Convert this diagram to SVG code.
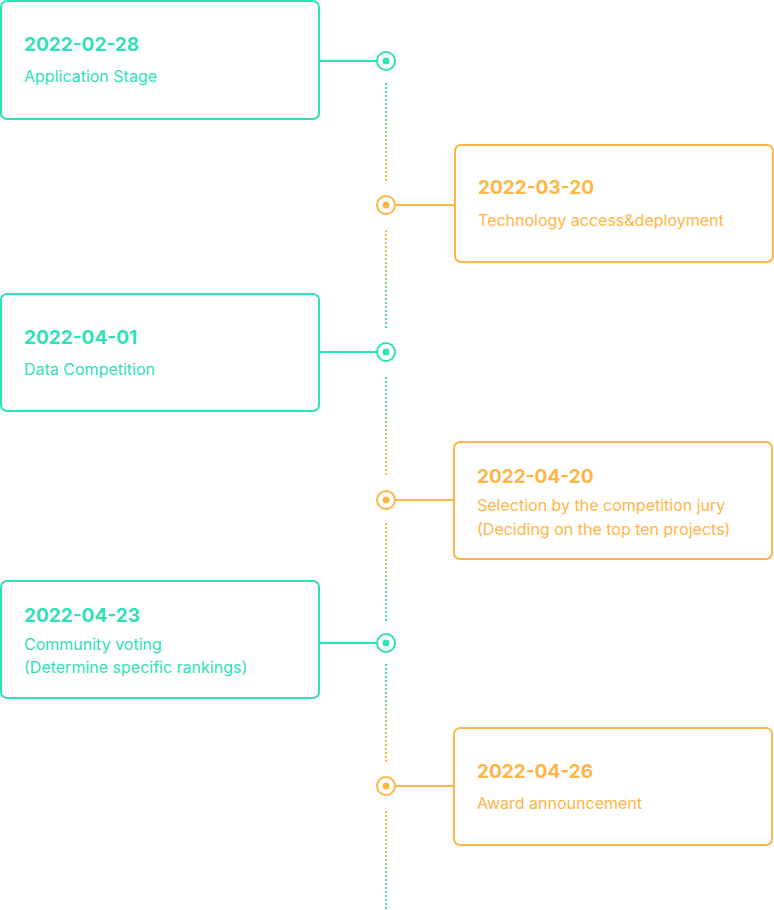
<svg xmlns="http://www.w3.org/2000/svg" width="774" height="910" viewBox="0 0 774 910">
<style>
.g{stroke:#30E0B8}
.o{stroke:#FFB545}
.box{fill:#fff;stroke-width:2}
.conn{stroke-width:2;fill:none}
.ring{fill:#fff;stroke-width:2}
.dg{fill:#30E0B8}
.do{fill:#FFB545}
.date{font-family:Inter,"Noto Sans","Liberation Sans",sans-serif;font-weight:700;font-size:19px}
.sub{font-family:Inter,"Noto Sans","Liberation Sans",sans-serif;font-size:16px}
.tg{fill:#30E0B8}
.to{fill:#FFB545}
.dash{stroke-width:2;stroke-dasharray:2 2;fill:none}
</style>
<defs>
<linearGradient id="go1" gradientUnits="userSpaceOnUse" x1="0" y1="83" x2="0" y2="182"><stop offset="0" stop-color="#30E0B8"/><stop offset="1" stop-color="#FFB545"/></linearGradient>
<linearGradient id="og2" gradientUnits="userSpaceOnUse" x1="0" y1="230" x2="0" y2="330"><stop offset="0" stop-color="#FFB545"/><stop offset="1" stop-color="#30E0B8"/></linearGradient>
<linearGradient id="go3" gradientUnits="userSpaceOnUse" x1="0" y1="377" x2="0" y2="477"><stop offset="0" stop-color="#30E0B8"/><stop offset="1" stop-color="#FFB545"/></linearGradient>
<linearGradient id="og4" gradientUnits="userSpaceOnUse" x1="0" y1="523" x2="0" y2="622"><stop offset="0" stop-color="#FFB545"/><stop offset="1" stop-color="#30E0B8"/></linearGradient>
<linearGradient id="go5" gradientUnits="userSpaceOnUse" x1="0" y1="664" x2="0" y2="763"><stop offset="0" stop-color="#30E0B8"/><stop offset="1" stop-color="#FFB545"/></linearGradient>
<linearGradient id="og6" gradientUnits="userSpaceOnUse" x1="0" y1="811" x2="0" y2="910"><stop offset="0" stop-color="#FFB545"/><stop offset="1" stop-color="#30E0B8"/></linearGradient>
</defs>

<g id="connectors">
<line class="dash" x1="386" y1="83" x2="386" y2="182" stroke="url(#go1)"/>
<line class="dash" x1="386" y1="230" x2="386" y2="330" stroke="url(#og2)"/>
<line class="dash" x1="386" y1="377" x2="386" y2="477" stroke="url(#go3)"/>
<line class="dash" x1="386" y1="523" x2="386" y2="622" stroke="url(#og4)"/>
<line class="dash" x1="386" y1="664" x2="386" y2="763" stroke="url(#go5)"/>
<line class="dash" x1="386" y1="811" x2="386" y2="910" stroke="url(#og6)"/>
<line class="conn g" x1="319" y1="61" x2="377" y2="61"/>
<line class="conn o" x1="395" y1="205" x2="455" y2="205"/>
<line class="conn g" x1="319" y1="352" x2="377" y2="352"/>
<line class="conn o" x1="395" y1="500" x2="454" y2="500"/>
<line class="conn g" x1="319" y1="643" x2="377" y2="643"/>
<line class="conn o" x1="395" y1="786" x2="454" y2="786"/>
<circle class="ring g" cx="386" cy="61" r="9"/><circle class="dg" cx="386" cy="61" r="3.5"/>
<circle class="ring o" cx="386" cy="205" r="9"/><circle class="do" cx="386" cy="205" r="3.5"/>
<circle class="ring g" cx="386" cy="352" r="9"/><circle class="dg" cx="386" cy="352" r="3.5"/>
<circle class="ring o" cx="386" cy="500" r="9"/><circle class="do" cx="386" cy="500" r="3.5"/>
<circle class="ring g" cx="386" cy="643" r="9"/><circle class="dg" cx="386" cy="643" r="3.5"/>
<circle class="ring o" cx="386" cy="786" r="9"/><circle class="do" cx="386" cy="786" r="3.5"/>
</g>

<g id="node1">
<rect class="box g" x="1" y="1" width="318" height="118" rx="6"/>
<text class="date tg" x="24" y="51">2022-02-28</text>
<text class="sub tg" x="24" y="82">Application Stage</text>
</g>
<g id="node2">
<rect class="box o" x="455" y="145" width="318" height="117" rx="6"/>
<text class="date to" x="478" y="194">2022-03-20</text>
<text class="sub to" x="478" y="226">Technology access&amp;deployment</text>
</g>
<g id="node3">
<rect class="box g" x="1" y="294" width="318" height="117" rx="6"/>
<text class="date tg" x="24" y="344">2022-04-01</text>
<text class="sub tg" x="24" y="375">Data Competition</text>
</g>
<g id="node4">
<rect class="box o" x="454" y="442" width="318" height="117" rx="6"/>
<text class="date to" x="477" y="483">2022-04-20</text>
<text class="sub to" x="477" y="511">Selection by the competition jury</text>
<text class="sub to" x="477" y="534.5">(Deciding on the top ten projects)</text>
</g>
<g id="node5">
<rect class="box g" x="1" y="581" width="318" height="117" rx="6"/>
<text class="date tg" x="24" y="622">2022-04-23</text>
<text class="sub tg" x="24" y="649.5">Community voting</text>
<text class="sub tg" x="24" y="672.5">(Determine specific rankings)</text>
</g>
<g id="node6">
<rect class="box o" x="454" y="728" width="318" height="117" rx="6"/>
<text class="date to" x="477" y="778">2022-04-26</text>
<text class="sub to" x="477" y="809">Award announcement</text>
</g>
</svg>
